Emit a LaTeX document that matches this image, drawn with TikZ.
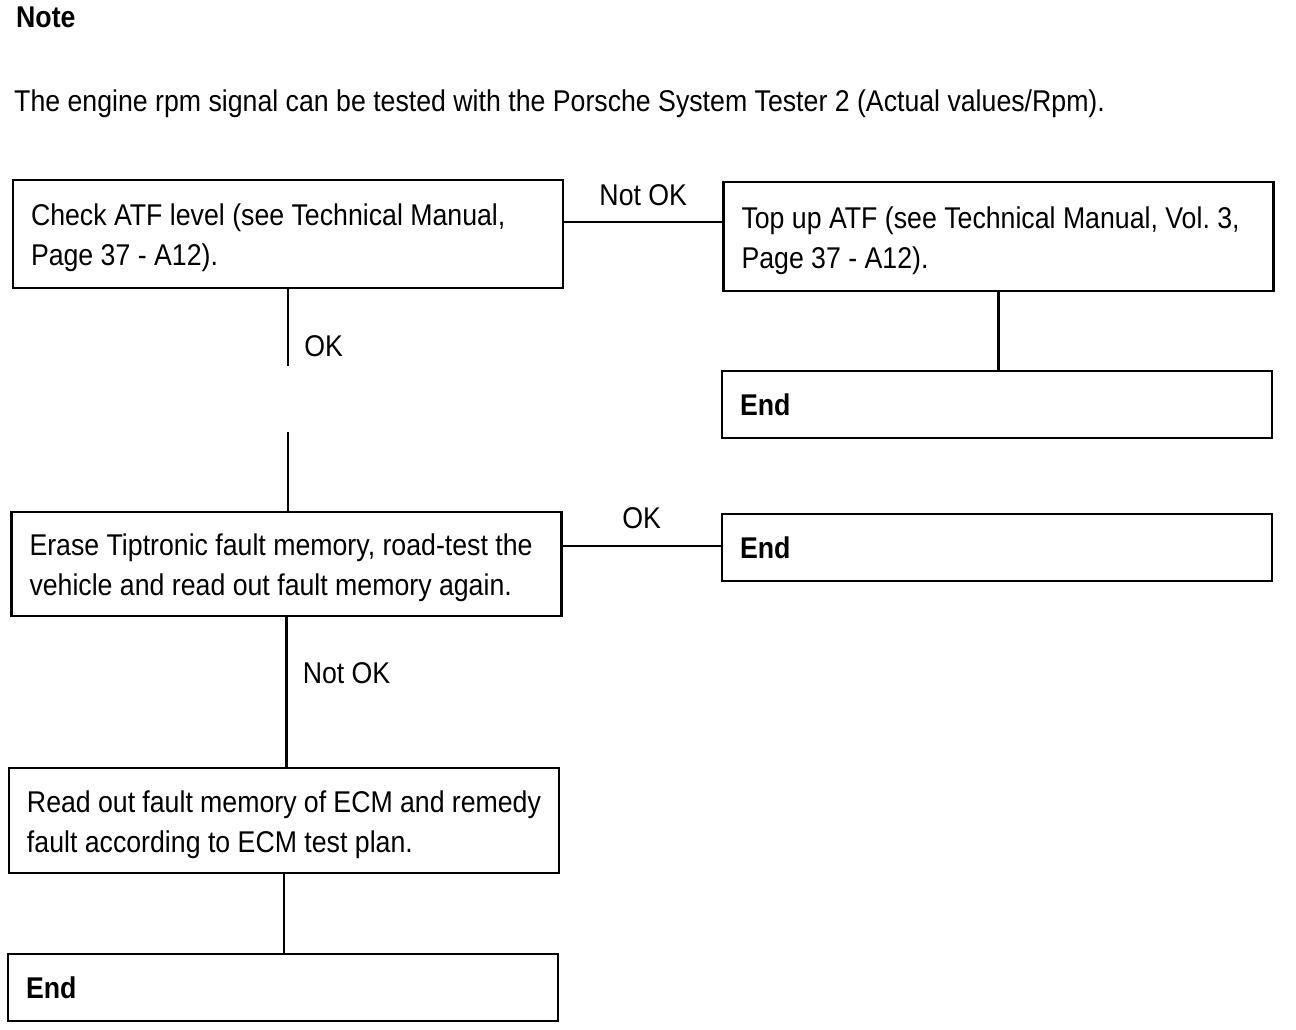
\documentclass[tikz,border=0pt]{standalone}
\usepackage{fontspec}
\setmainfont{Liberation Sans}[FakeStretch=0.89]
\usepackage{tikz}
\usetikzlibrary{calc}
\frenchspacing
\tikzstyle{blk}=[draw,line width=2.5pt,inner xsep=18pt,inner ysep=0pt,text width=514pt,align=flush left,anchor=center]
\tikzstyle{blktwo}=[blk,execute at begin node={\rule{0pt}{30pt}}]
\tikzstyle{ln}=[line width=2.5pt]
\tikzstyle{lbl}=[inner sep=0pt]
\begin{document}
\begin{tikzpicture}[x=1pt,y=-1pt,font=\fontsize{30}{40}\selectfont]
	\useasboundingbox (0,0) rectangle (1296,1030);
	\node[lbl,anchor=base west] (note) at (16,28) {\bfseries Note};
	\node[lbl,anchor=base west] (intro) at (14,112) {The engine rpm signal can be tested with the Porsche System Tester 2 (Actual values/Rpm).};
	% boxes
	\node[blktwo,minimum height=108pt] (chk)   at (288,234)   {Check ATF level (see Technical Manual,\\Page 37 - A12).};
	\node[blktwo,minimum height=109pt] (topup) at (998.5,236.5) {Top up ATF (see Technical Manual, Vol. 3,\\Page 37 - A12).};
	\node[blk,minimum height=67pt]  (endA)  at (997,404.5) {\bfseries End};
	\node[blktwo,minimum height=104pt] (erase) at (286.5,564) {Erase Tiptronic fault memory, road-test the\\vehicle and read out fault memory again.};
	\node[blk,minimum height=67pt]  (endB)  at (997,547.5) {\bfseries End};
	\node[blktwo,minimum height=105pt] (ecm)   at (284,820.5) {Read out fault memory of ECM and remedy\\fault according to ECM test plan.};
	\node[blk,minimum height=67pt]  (endC)  at (283,987.5) {\bfseries End};
	% connectors
	\coordinate (gapA) at (288,366);
	\coordinate (gapB) at (288,432);
	\draw[ln] ([yshift=12pt]chk.east) --node[lbl,above=15pt]{Not OK} ([yshift=12pt]chk.east -| topup.west);
	\draw[ln] (chk.south) --node[lbl,pos=.74,right=15pt]{OK} (gapA);
	\draw[ln] (gapB) -- (gapB |- erase.north);
	\draw[ln] (topup.south) -- (topup.south |- endA.north);
	\draw[ln] ([yshift=18pt]erase.east) --node[lbl,above=16pt]{OK} ([yshift=18pt]erase.east -| endB.west);
	\draw[ln] (erase.south) --node[lbl,pos=.375,right=15pt]{Not OK} (erase.south |- ecm.north);
	\draw[ln] (ecm.south) -- (ecm.south |- endC.north);
\end{tikzpicture}
\end{document}
